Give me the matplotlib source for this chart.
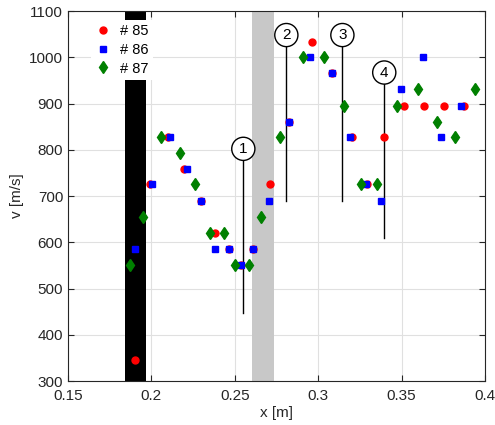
"""Velocity vs position for three shots."""
import matplotlib.pyplot as plt

# shot #85
x85 = [0.1902, 0.1992, 0.2101, 0.2197, 0.2299, 0.2383, 0.2463, 0.2540, 0.2609,
       0.2709, 0.2825, 0.2961, 0.3085, 0.3201, 0.3291, 0.3396, 0.3516, 0.3636,
       0.3756, 0.3876]
v85 = [345, 725, 827, 758, 690, 620, 585, 551, 585,
       725, 861, 1034, 965, 827, 725, 827, 895, 895,
       895, 895]
# shot #86
x86 = [0.1902, 0.2004, 0.2110, 0.2212, 0.2299, 0.2383, 0.2463, 0.2535, 0.2609,
       0.2705, 0.2825, 0.2949, 0.3081, 0.3191, 0.3285, 0.3377, 0.3496, 0.3630,
       0.3736, 0.3856]
v86 = [585, 725, 827, 758, 690, 585, 585, 551, 585,
       690, 861, 1000, 965, 827, 725, 690, 931, 1000,
       827, 895]
# shot #87
x87 = [0.1872, 0.1951, 0.2060, 0.2173, 0.2263, 0.2349, 0.2433, 0.2501, 0.2583,
       0.2659, 0.2773, 0.2911, 0.3037, 0.3157, 0.3259, 0.3353, 0.3471, 0.3597,
       0.3712, 0.3818, 0.3940]
v87 = [551, 654, 827, 792, 725, 620, 620, 551, 551,
       654, 827, 1000, 1000, 895, 725, 725, 895, 931,
       861, 827, 931]

# marked positions: label, x, circle height, line bottom
mark_labels = ["1", "2", "3", "4"]
mark_x = [0.2551, 0.2809, 0.3145, 0.3396]
mark_top = [802, 1048, 1048, 967]
mark_bottom = [446, 690, 690, 610]

# shaded regions
black_span = (0.1842, 0.1969)
gray_span = (0.2605, 0.2733)


def main():
    """Main."""
    plt.rcParams["font.family"] = ["Liberation Sans", "DejaVu Sans"]
    fig = plt.figure(figsize=(4.95, 4.25), dpi=100)
    ax = fig.add_axes([0.1374, 0.1035, 0.8424, 0.8706])

    ax.axvspan(*black_span, color="black", zorder=1, lw=0)
    ax.axvspan(*gray_span, color="#c8c8c8", zorder=1, lw=0)

    for lab, x, top, bot in zip(mark_labels, mark_x, mark_top, mark_bottom):
        ax.plot([x, x], [top, bot], color="black", lw=1.0, zorder=2)
        ax.text(x, top, lab, ha="center", va="center", fontsize=11, zorder=5,
                bbox=dict(boxstyle="circle,pad=0.3", fc="white", ec="black", lw=1.0))

    ax.plot(x85, v85, "o", color="red", ms=5, ls="none", label="# 85", zorder=3)
    ax.plot(x86, v86, "s", color="blue", ms=4.5, ls="none", label="# 86", zorder=3)
    ax.plot(x87, v87, "d", color="green", ms=6, ls="none", label="# 87", zorder=3)

    ax.set_xlim(0.15, 0.4)
    ax.set_ylim(300, 1100)
    ax.set_xticks([0.15, 0.2, 0.25, 0.3, 0.35, 0.4],
                  labels=["0.15", "0.2", "0.25", "0.3", "0.35", "0.4"])
    ax.set_yticks(range(300, 1101, 100))
    ax.grid(True, color="#e0e0e0", lw=0.8, zorder=0)
    ax.set_axisbelow(True)
    ax.tick_params(direction="in", top=True, right=True, labelsize=11,
                   colors="#262626", length=4)
    ax.tick_params(axis="x", pad=6)
    for sp in ax.spines.values():
        sp.set_color("#262626")
    ax.set_xlabel("x [m]", fontsize=11, color="#262626", labelpad=2)
    ax.set_ylabel("v [m/s]", fontsize=11, color="#262626", labelpad=4)

    leg = ax.legend(loc="upper left", bbox_to_anchor=(0.056, 0.976),
                    borderaxespad=0, frameon=True, fancybox=False,
                    fontsize=10.5, handletextpad=0.65, handlelength=1.0,
                    labelspacing=0.32, borderpad=0.3)
    leg.get_frame().set_facecolor("white")
    leg.get_frame().set_edgecolor("none")
    leg.get_frame().set_alpha(1)
    leg.set_zorder(10)

    fig.savefig("out.png")
    plt.close(fig)


if __name__ == "__main__":
    main()
